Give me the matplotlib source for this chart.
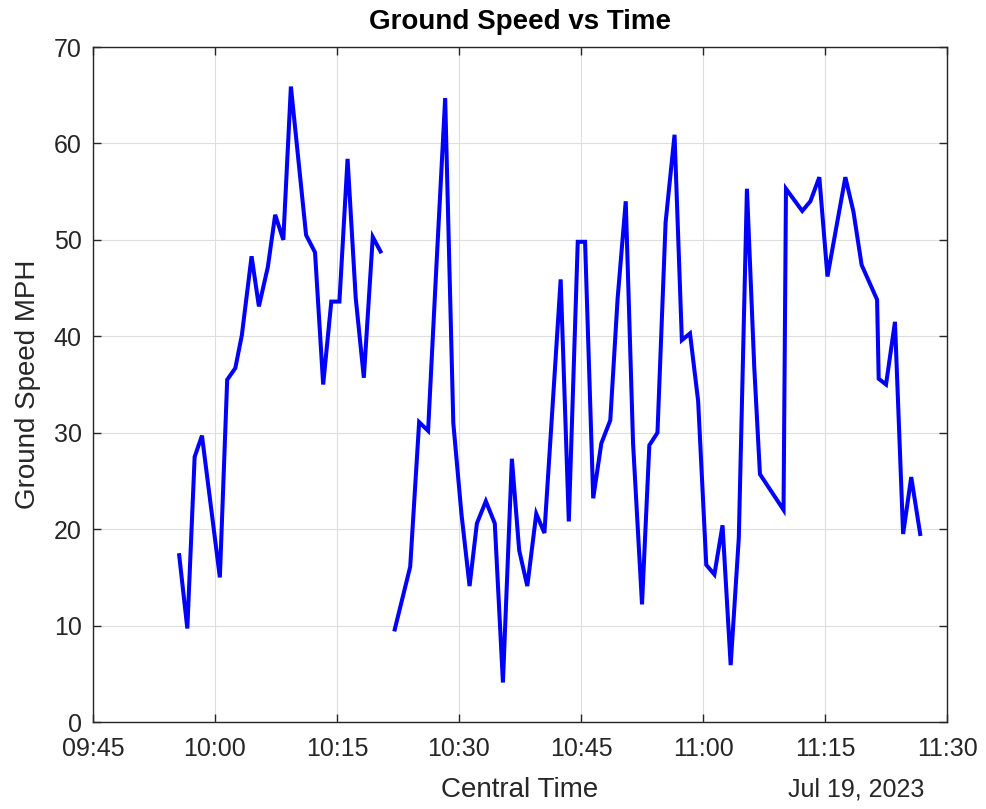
import matplotlib
matplotlib.use("Agg")
import matplotlib.pyplot as plt
import matplotlib.dates as mdates
import pandas as pd

# Ground speed samples, Jul 19, 2023 (Central Time)
day = "2023-07-19"

# first leg
times_1 = ["09:55:36", "09:56:36", "09:57:30", "09:58:24", "10:00:36", "10:01:30",
           "10:02:30", "10:03:18", "10:04:30", "10:05:24", "10:06:30", "10:07:24",
           "10:08:24", "10:09:20", "10:11:12", "10:12:18", "10:13:18", "10:14:18",
           "10:15:18", "10:16:18", "10:17:18", "10:18:18", "10:19:24", "10:20:21"]
speed_1 = [17.3, 9.7, 27.5, 29.7, 15.0, 35.5,
           36.7, 40.1, 48.3, 43.1, 47.2, 52.6,
           50.0, 65.9, 50.5, 48.7, 35.0, 43.6,
           43.6, 58.4, 44.0, 35.7, 50.3, 48.8]

# second leg
times_2 = ["10:22:06", "10:24:00", "10:25:06", "10:26:12", "10:27:12", "10:28:18",
           "10:29:18", "10:30:18", "10:31:18", "10:32:12", "10:33:18", "10:34:24",
           "10:35:24", "10:36:30", "10:37:24", "10:38:24", "10:39:30", "10:40:30",
           "10:41:30", "10:42:30", "10:43:30", "10:44:36", "10:45:30", "10:46:30",
           "10:47:30", "10:48:36", "10:49:30", "10:50:30", "10:51:24", "10:52:30",
           "10:53:24", "10:54:24", "10:55:24", "10:56:30", "10:57:24", "10:58:24",
           "10:59:24", "11:00:24", "11:01:24", "11:02:24", "11:03:24", "11:04:24",
           "11:05:24", "11:06:18", "11:07:00", "11:09:54", "11:10:12", "11:12:12",
           "11:13:12", "11:14:18", "11:15:18", "11:17:30", "11:18:30", "11:19:30",
           "11:21:24", "11:21:36", "11:22:30", "11:23:36", "11:24:36", "11:25:36",
           "11:26:42"]
speed_2 = [9.6, 16.1, 31.1, 30.2, 46.9, 64.7,
           31.0, 21.6, 14.1, 20.6, 22.9, 20.6,
           4.1, 27.3, 17.8, 14.1, 21.6, 19.6,
           32.7, 45.9, 20.8, 49.8, 49.8, 23.2,
           28.9, 31.3, 43.9, 54.0, 28.9, 12.2,
           28.7, 30.0, 51.8, 60.9, 39.6, 40.3,
           33.3, 16.3, 15.3, 20.4, 5.9, 19.1,
           55.3, 36.8, 25.7, 22.0, 55.3, 53.0,
           54.0, 56.5, 46.2, 56.5, 52.9, 47.4,
           43.8, 35.6, 35.0, 41.5, 19.5, 25.4,
           19.5]

xticks = ["09:45", "10:00", "10:15", "10:30", "10:45", "11:00", "11:15", "11:30"]
yticks = [0, 10, 20, 30, 40, 50, 60, 70]

txt = "#262626"
plt.rcParams["font.family"] = ["Liberation Sans", "DejaVu Sans"]

fig = plt.figure(figsize=(9.87, 8.09), dpi=100)
ax = fig.add_axes([0.0942, 0.1075, 0.8653, 0.8344])

for tt, ss in [(times_1, speed_1), (times_2, speed_2)]:
    t = pd.to_datetime([day + " " + s for s in tt])
    ax.plot(t, ss, color="#0000ff", lw=2.9, solid_joinstyle="miter")

tick_dt = pd.to_datetime([day + " " + s for s in xticks])
ax.set_xlim(tick_dt[0], tick_dt[-1])
ax.set_xticks(tick_dt)
ax.xaxis.set_major_formatter(mdates.DateFormatter("%H:%M"))
ax.set_ylim(0, 70)
ax.set_yticks(yticks)

ax.grid(True, color="#dedede", lw=0.8)
ax.set_axisbelow(True)
for sp in ax.spines.values():
    sp.set_color(txt)
    sp.set_linewidth(1.0)
ax.tick_params(direction="in", length=6, width=1.0, color=txt, labelcolor=txt,
               labelsize=18, top=True, right=True)
ax.tick_params(axis="x", pad=11)
ax.tick_params(axis="y", pad=8)

ax.set_xlabel("Central Time", fontsize=20, color=txt)
ax.xaxis.set_label_coords(0.5, -0.1)
ax.xaxis.label.set_va("center")
ax.set_ylabel("Ground Speed MPH", fontsize=20, color=txt)
ax.yaxis.set_label_coords(-0.076, 0.5)
ax.yaxis.label.set_va("center")

ax.text(0.974, -0.1, "Jul 19, 2023", transform=ax.transAxes, ha="right",
        va="center", fontsize=18, color=txt)
ax.text(0.5, 1.037, "Ground Speed vs Time", transform=ax.transAxes, ha="center",
        va="center", fontsize=20, fontweight="bold", color="black")

fig.savefig("out.png", dpi=100)
